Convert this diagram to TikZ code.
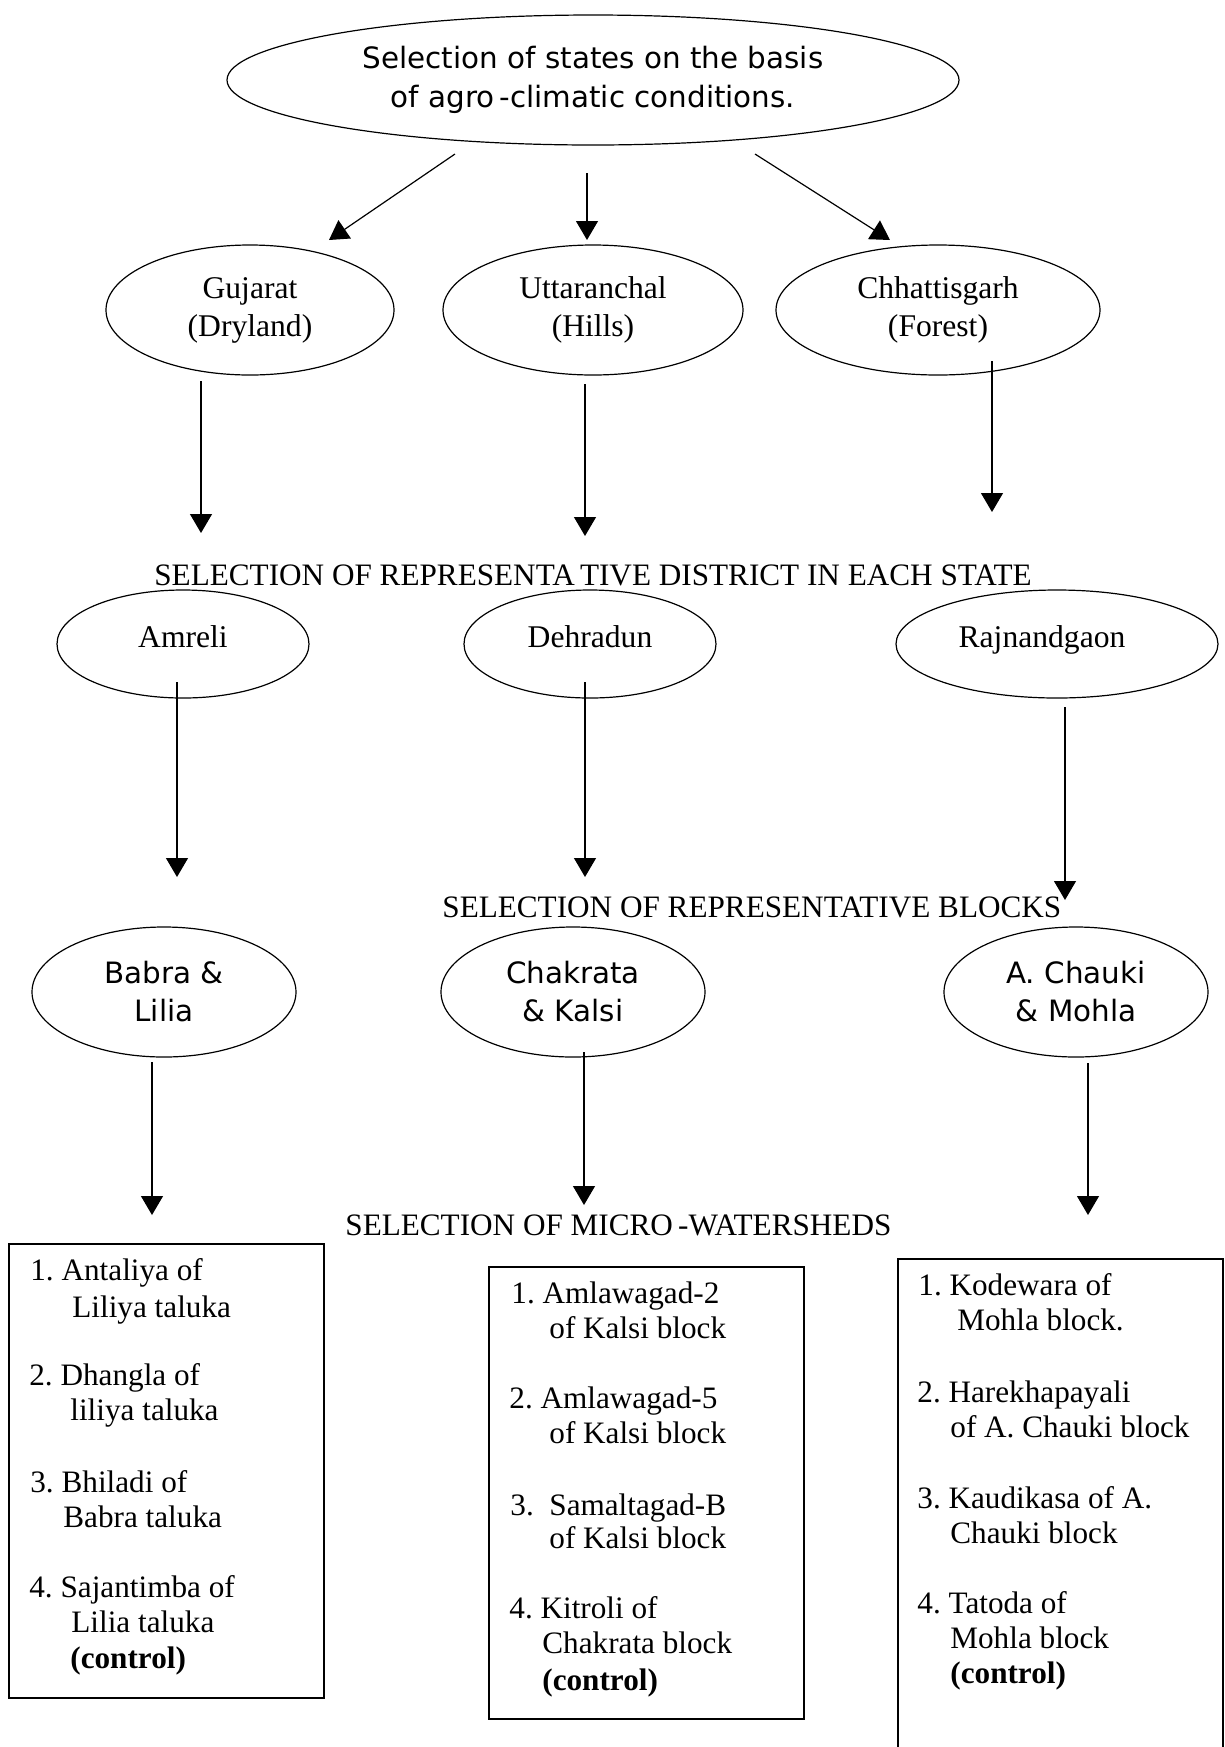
\documentclass[tikz,border=0pt]{standalone}
\usepackage{fontspec}
\setmainfont{Liberation Serif}
\newfontfamily\vsans{DejaVu Sans}
\usetikzlibrary{shapes.geometric,arrows.meta}
\frenchspacing

\tikzset{
  selell/.style={draw, ellipse, inner sep=0pt, line width=0.6pt, align=center},
  serifell/.style={selell, font=\fontsize{15.8}{19}\selectfont},
  distell/.style={serifell, text height=11pt, text depth=8pt},
  sansell/.style={selell, font=\vsans\fontsize{14.7}{19}\selectfont},
  steptitle/.style={anchor=base west, inner sep=0pt, font=\fontsize{15.6}{19}\selectfont},
  wsbox/.style={draw, rectangle, line width=1pt, anchor=north west, inner sep=0pt},
  wsline/.style={anchor=base west, inner sep=0pt, font=\fontsize{15.6}{18}\selectfont},
  arr/.style={line width=0.6pt, -{Triangle[width=11pt,length=9.5pt]}}
}

\begin{document}
\begin{tikzpicture}[x=0.5pt,y=-0.5pt]
\useasboundingbox (0,0) rectangle (1225,1747);

% states
\node[sansell, minimum width=366pt, minimum height=65pt,
  font=\vsans\fontsize{14.7}{19.5}\selectfont] (top) at (593,80)
  {Selection of states on the basis\\of agro\,-climatic conditions.};
\node[serifell, minimum width=144pt, minimum height=65pt] (guj) at (250,310) {Gujarat\\(Dryland)};
\node[serifell, minimum width=150pt, minimum height=65pt] (utt) at (593,310) {Uttaranchal\\(Hills)};
\node[serifell, minimum width=162pt, minimum height=65pt] (chh) at (938,310) {Chhattisgarh\\(Forest)};

% districts
\node[steptitle] (tdist) at (154,585) {SELECTION OF REPRESENTA\,TIVE DISTRICT IN EACH STATE};
\node[distell, minimum width=126pt, minimum height=54pt] (amr) at (183,644) {Amreli};
\node[distell, minimum width=126pt, minimum height=54pt] (deh) at (590,644) {Dehradun};
\node[distell, minimum width=161pt, minimum height=54pt] (raj) at (1057,644) {Rajnandgaon\kern15pt};

% blocks
\node[steptitle] (tblk) at (442,917) {SELECTION OF REPRESENTATIVE BLOCKS};
\node[sansell, minimum width=132pt, minimum height=65pt] (bab) at (164,992) {Babra \&\\Lilia};
\node[sansell, minimum width=132pt, minimum height=65pt] (cha) at (573,992) {Chakrata\\\& Kalsi};
\node[sansell, minimum width=132pt, minimum height=65pt] (ach) at (1076,992) {A. Chauki\\\& Mohla};

% micro-watersheds
\node[steptitle] (tmws) at (345,1235) {SELECTION OF MICRO\,-WATERSHEDS};
\node[wsbox, minimum width=157.5pt, minimum height=227pt] (box1) at (8,1243) {};
\node[wsbox, minimum width=157.5pt, minimum height=226pt] (box2) at (488,1266) {};
\node[wsbox, minimum width=162.5pt, minimum height=255pt] (box3) at (897,1258) {};

\foreach \x/\y/\t [count=\i] in {
  30/1280/{1. Antaliya of}, 72/1317/{Liliya taluka},
  29/1385/{2. Dhangla of}, 70/1420/{liliya taluka},
  30/1492/{3. Bhiladi of}, 63/1527/{Babra taluka},
  29/1597/{4. Sajantimba of}, 71/1632/{Lilia taluka},
  70/1668/{\textbf{(control)}}}
  \node[wsline] (wa\i) at (\x,\y) {\t};

\foreach \x/\y/\t [count=\i] in {
  511/1303/{1. Amlawagad-2}, 549/1338/{of Kalsi block},
  509/1408/{2. Amlawagad-5}, 549/1443/{of Kalsi block},
  510/1515/{3.~~Samaltagad-B}, 549/1548/{of Kalsi block},
  509/1618/{4. Kitroli of}, 542/1653/{Chakrata block},
  542/1690/{\textbf{(control)}}}
  \node[wsline] (wb\i) at (\x,\y) {\t};

\foreach \x/\y/\t [count=\i] in {
  918/1295/{1. Kodewara of}, 957/1330/{Mohla block.},
  917/1402/{2. Harekhapayali}, 950/1437/{of A. Chauki block},
  917/1508/{3. Kaudikasa of A.}, 950/1543/{Chauki block},
  917/1613/{4. Tatoda of}, 950/1648/{Mohla block},
  950/1683/{\textbf{(control)}}}
  \node[wsline] (wc\i) at (\x,\y) {\t};

% arrows (they stop short of the shapes)
\foreach \i/\a/\b in {
  1/{455,154}/{329,240}, 2/{587,173}/{587,240}, 3/{755,154}/{890,240},
  4/{201,381}/{201,533}, 5/{585,384}/{585,536}, 6/{992,361}/{992,512},
  7/{177,682}/{177,877}, 8/{585,682}/{585,877}, 9/{1065,707}/{1065,900},
  10/{152,1062}/{152,1215}, 11/{584,1052}/{584,1205}, 12/{1088,1063}/{1088,1215}} {
  \coordinate (s\i) at (\a);
  \coordinate (e\i) at (\b);
  \draw[arr] (s\i) -- (e\i);
}
\end{tikzpicture}
\end{document}
